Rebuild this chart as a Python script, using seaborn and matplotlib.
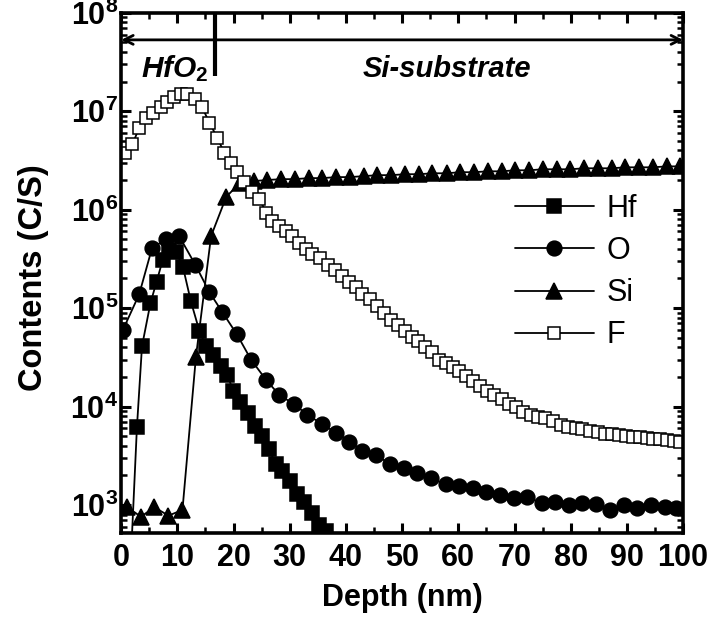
import numpy as np
import pandas as pd
import matplotlib
matplotlib.use("Agg")
import matplotlib.pyplot as plt
from matplotlib.ticker import FuncFormatter, LogLocator, MultipleLocator, NullFormatter
import seaborn as sns

# ---- depth profiles (counts per second vs depth in nm) ----
hf_depth = [1.6, 2.8, 3.7, 5.2, 6.3, 7.4, 8.5, 9.8, 11.0, 12.4, 13.9, 15.1, 16.4, 17.7,
            18.9, 19.9, 21.2, 22.5, 23.8, 25.1, 26.3, 27.5, 28.6, 30.0, 31.3, 32.5,
            33.9, 35.2, 36.4, 37.6]
hf_counts = [200, 6.2e3, 4.1e4, 1.12e5, 1.86e5, 3.1e5, 3.9e5, 3.7e5, 2.6e5, 1.17e5,
             5.9e4, 4.1e4, 3.3e4, 2.6e4, 2.1e4, 1.45e4, 1.12e4, 8.7e3, 6.3e3, 5.0e3,
             3.7e3, 2.6e3, 2.2e3, 1.74e3, 1.29e3, 1.07e3, 830, 620, 550, 400]

o_depth = [0.3, 3.2, 5.5, 8.0, 10.3, 13.2, 15.7, 18.0, 20.6, 23.1, 25.8, 28.1, 30.8,
           33.1, 35.8, 38.3, 40.6, 42.9, 45.4, 47.9, 50.4, 52.7, 55.2, 57.8, 60.1,
           62.6, 65.0, 67.4, 69.9, 72.2, 74.9, 77.2, 79.7, 82.0, 84.5, 87.0, 89.5,
           91.8, 94.3, 96.8, 98.8]
o_counts = [6.0e4, 1.38e5, 4.1e5, 5.0e5, 5.4e5, 2.75e5, 1.45e5, 9.1e4, 5.4e4, 3.0e4,
            1.86e4, 1.32e4, 1.05e4, 8.3e3, 6.6e3, 5.4e3, 4.4e3, 3.55e3, 3.2e3, 2.6e3,
            2.35e3, 2.1e3, 1.86e3, 1.62e3, 1.55e3, 1.48e3, 1.35e3, 1.26e3, 1.17e3,
            1.2e3, 1.05e3, 1.07e3, 1.0e3, 1.05e3, 1.02e3, 890, 1.0e3, 930, 1.0e3,
            950, 930]

si_depth = [1.1, 3.5, 5.9, 8.4, 10.9, 13.3, 16.0, 18.7, 21.1, 23.6, 26.0, 28.5, 30.9,
            33.4, 35.8, 38.3, 40.7, 43.2, 45.6, 48.1, 50.5, 53.0, 55.4, 57.9, 60.3,
            62.8, 65.2, 67.7, 70.1, 72.6, 75.0, 77.5, 79.9, 82.4, 84.8, 87.3, 89.7,
            92.2, 94.6, 97.1, 99.5]
si_counts = [950, 760, 950, 780, 890, 3.2e4, 5.4e5, 1.35e6, 1.86e6, 1.95e6, 2.0e6,
             2.04e6, 2.04e6, 2.09e6, 2.09e6, 2.14e6, 2.14e6, 2.19e6, 2.24e6, 2.24e6,
             2.29e6, 2.29e6, 2.34e6, 2.34e6, 2.40e6, 2.40e6, 2.45e6, 2.45e6, 2.51e6,
             2.51e6, 2.57e6, 2.57e6, 2.57e6, 2.63e6, 2.63e6, 2.63e6, 2.69e6, 2.69e6,
             2.69e6, 2.75e6, 2.75e6]

f_depth = [0.7, 2.0, 3.2, 4.4, 5.7, 7.1, 8.2, 9.4, 10.7, 11.7, 13.2, 14.4, 15.7, 17.1,
           18.3, 19.6, 20.6, 21.9, 23.3, 24.6, 25.8, 26.9, 28.1, 29.4, 30.4, 31.7,
           32.9, 34.0, 35.4, 36.8, 38.1, 39.3, 40.6, 41.8, 42.9, 44.3, 45.6, 46.8,
           48.0, 49.2, 50.5, 51.7, 52.9, 54.1, 55.3, 56.6, 57.8, 59.0, 60.2, 61.4,
           62.6, 63.8, 65.1, 66.4, 67.7, 69.0, 70.3, 71.6, 72.9, 74.1, 75.4, 76.8,
           78.3, 79.6, 80.9, 82.1, 83.5, 84.8, 86.1, 87.4, 88.6, 89.9, 91.1, 92.3,
           93.5, 94.7, 95.9, 97.1, 98.3, 99.5]
f_counts = [3.8e6, 4.6e6, 6.8e6, 8.5e6, 9.5e6, 1.10e7, 1.23e7, 1.38e7, 1.48e7, 1.48e7,
            1.32e7, 1.10e7, 7.6e6, 5.4e6, 3.8e6, 3.0e6, 2.4e6, 1.9e6, 1.5e6, 1.29e6,
            9.3e5, 7.6e5, 6.8e5, 6.0e5, 5.4e5, 4.6e5, 4.0e5, 3.55e5, 3.2e5, 2.75e5,
            2.45e5, 2.1e5, 1.86e5, 1.62e5, 1.38e5, 1.23e5, 1.05e5, 8.9e4, 7.6e4,
            6.8e4, 5.8e4, 5.1e4, 4.6e4, 4.0e4, 3.55e4, 3.0e4, 2.75e4, 2.5e4, 2.3e4,
            2.05e4, 1.82e4, 1.62e4, 1.45e4, 1.32e4, 1.2e4, 1.07e4, 9.8e3, 8.9e3,
            8.3e3, 7.9e3, 7.6e3, 7.2e3, 6.5e3, 6.2e3, 6.0e3, 5.9e3, 5.6e3, 5.5e3,
            5.25e3, 5.25e3, 5.1e3, 5.0e3, 4.9e3, 4.9e3, 4.8e3, 4.7e3, 4.7e3, 4.6e3,
            4.5e3, 4.4e3]

x_ticks = [0, 10, 20, 30, 40, 50, 60, 70, 80, 90, 100]
interface_depth = 16.7

sns.set_theme(style="ticks")
plt.rcParams["font.family"] = ["Liberation Sans", "DejaVu Sans"]
plt.rcParams["text.color"] = "black"
plt.rcParams["axes.labelcolor"] = "black"
plt.rcParams["xtick.color"] = "black"
plt.rcParams["ytick.color"] = "black"
plt.rcParams["mathtext.fontset"] = "custom"
plt.rcParams["mathtext.rm"] = "Liberation Sans:bold"
plt.rcParams["mathtext.bf"] = "Liberation Sans:bold"
plt.rcParams["mathtext.it"] = "Liberation Sans:bold:italic"

fig = plt.figure(figsize=(7.13, 6.36), dpi=100)
ax = fig.add_axes([0.170, 0.162, 0.788, 0.818])

series = [
    ("Hf", hf_depth, hf_counts, dict(marker="s", markersize=9.4, markerfacecolor="black")),
    ("O", o_depth, o_counts, dict(marker="o", markersize=10.6, markerfacecolor="black")),
    ("Si", si_depth, si_counts, dict(marker="^", markersize=11.8, markerfacecolor="black")),
    ("F", f_depth, f_counts, dict(marker="s", markersize=9.2, markerfacecolor="white")),
]
for name, xs, ys, style in series:
    df = pd.DataFrame({"depth": xs, "counts": ys})
    sns.lineplot(data=df, x="depth", y="counts", ax=ax, color="black", linewidth=1.3,
                 markeredgecolor="black", markeredgewidth=1.1, label=name, **style)

ax.set_yscale("log")
ax.set_xlim(0, 100)
ax.set_ylim(520, 1e8)

ax.set_xticks(x_ticks)
ax.xaxis.set_minor_locator(MultipleLocator(5))
ax.yaxis.set_major_locator(LogLocator(base=10, numticks=12))
ax.yaxis.set_minor_locator(LogLocator(base=10, subs=np.arange(2, 10), numticks=12))
ax.yaxis.set_minor_formatter(NullFormatter())
ax.yaxis.set_major_formatter(FuncFormatter(lambda v, p: r"$\mathbf{10^{%d}}$" % round(np.log10(v))))

for s in ax.spines.values():
    s.set_linewidth(2.6)
    s.set_color("black")
ax.tick_params(which="both", direction="in", top=True, right=True, color="black")
ax.tick_params(which="major", length=7, width=2.2)
ax.tick_params(which="minor", length=4, width=1.8)
ax.tick_params(axis="x", which="major", labelsize=22, pad=7)
ax.tick_params(axis="y", which="major", labelsize=22, pad=2)
for lab in ax.get_xticklabels():
    lab.set_fontweight("bold")

ax.set_xlabel("Depth (nm)", fontsize=22, fontweight="bold")
ax.set_ylabel("Contents (C/S)", fontsize=23.5, fontweight="bold")
ax.xaxis.set_label_coords(0.5, -0.097)
ax.yaxis.set_label_coords(-0.128, 0.49)

# layer boundary and region annotations
ax.plot([interface_depth, interface_depth], [2.3e7, 1e8], color="black", lw=3, solid_capstyle="butt")
ax.annotate("", xy=(0, 5.3e7), xytext=(100, 5.3e7),
            arrowprops=dict(arrowstyle="<->", lw=2, color="black", mutation_scale=16,
                            shrinkA=0, shrinkB=0))
ax.text(3.5, 2.7e7, r"$HfO_2$", fontsize=21.5, va="center", ha="left")
ax.text(43.0, 2.7e7, "Si-substrate", fontsize=21, fontweight="bold", fontstyle="italic",
        va="center", ha="left")

leg = ax.legend(loc="upper left", bbox_to_anchor=(0.700, 0.652), frameon=False,
                fontsize=22, handlelength=2.6, handletextpad=0.4, labelspacing=0.4,
                borderpad=0, borderaxespad=0)

fig.savefig("out.png", dpi=100)
